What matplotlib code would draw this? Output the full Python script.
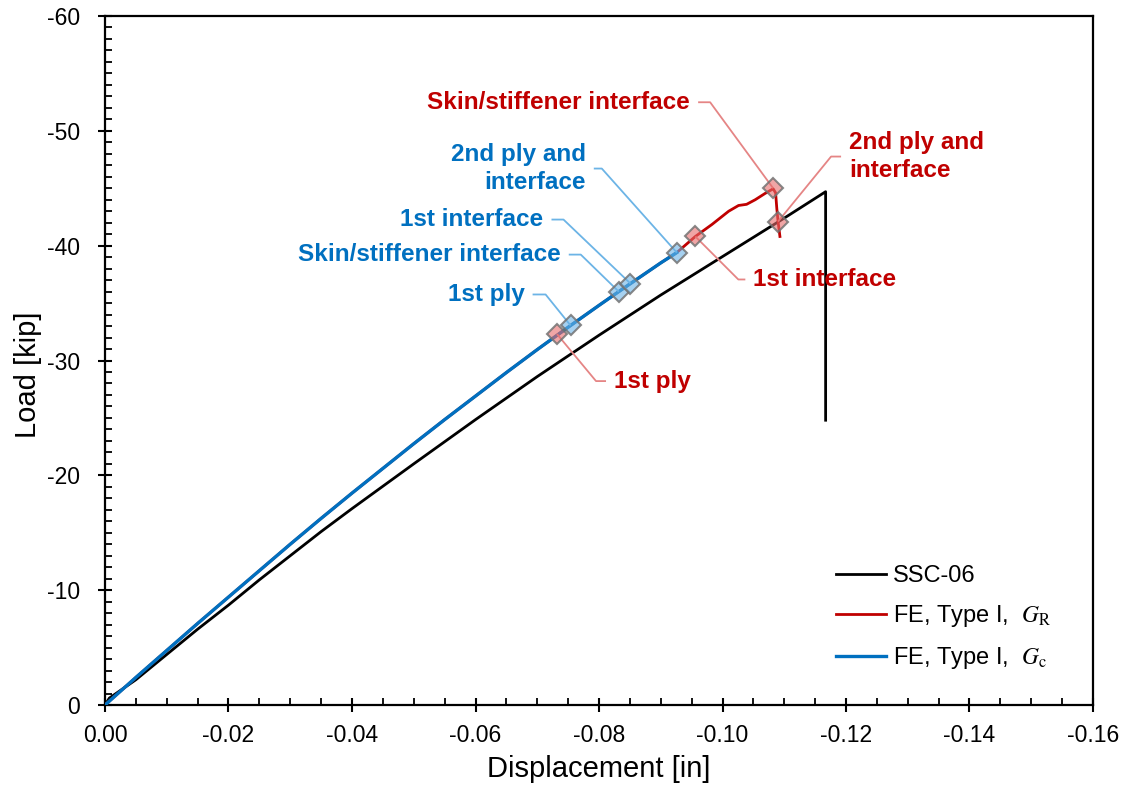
import matplotlib
matplotlib.use('Agg')
import matplotlib.pyplot as plt
from matplotlib.ticker import MultipleLocator, FuncFormatter
import numpy as np

plt.rcParams['font.family'] = ['Liberation Sans', 'DejaVu Sans']
plt.rcParams['mathtext.fontset'] = 'stix'
plt.rcParams['axes.unicode_minus'] = False

# ---------------- data ----------------
# Experiment SSC-06
disp_exp = [0.0, -0.0007, -0.005, -0.010, -0.015, -0.020, -0.025, -0.030, -0.035,
            -0.040, -0.045, -0.050, -0.060, -0.070, -0.080, -0.090, -0.100,
            -0.110, -0.1167, -0.1167]
load_exp = [0.0, -0.6, -2.2, -4.4, -6.6, -8.7, -10.9, -13.0, -15.1,
            -17.1, -19.05, -21.0, -24.85, -28.6, -32.2, -35.7, -39.05,
            -42.4, -44.7, -24.8]

# FE, Type I, Gc
disp_gc = [0.0, -0.005, -0.010, -0.015, -0.020, -0.025, -0.030, -0.035, -0.040,
           -0.045, -0.050, -0.055, -0.060, -0.065, -0.070, -0.0754, -0.080,
           -0.0832, -0.0851, -0.090, -0.0926]
load_gc = [0.0, -2.4, -4.75, -7.1, -9.4, -11.7, -14.0, -16.25, -18.45,
           -20.6, -22.75, -24.85, -26.9, -28.95, -30.95, -33.05, -34.8,
           -36.0, -36.7, -38.5, -39.4]

# FE, Type I, GR (identical to Gc up to the 2nd ply event, then continues)
disp_gr_tail = [-0.0956, -0.0983, -0.1010, -0.1026, -0.1039, -0.1053, -0.1069,
                -0.1082, -0.1086, -0.1088, -0.1090, -0.1093]
load_gr_tail = [-40.8, -41.85, -43.0, -43.5, -43.6, -44.0, -44.55,
                -44.95, -44.6, -43.2, -42.1, -40.8]
disp_gr = disp_gc + disp_gr_tail
load_gr = load_gc + load_gr_tail

# damage events
gc_event_disp = [-0.0754, -0.0832, -0.0851, -0.0926]
gc_event_load = [-33.05, -36.0, -36.7, -39.4]
gc_event_labels = ['1st ply', 'Skin/stiffener interface', '1st interface',
                   '2nd ply and\ninterface']
gr_event_disp = [-0.0732, -0.0956, -0.1082, -0.1090]
gr_event_load = [-32.3, -40.8, -45.0, -42.1]
gr_event_labels = ['1st ply', '1st interface', 'Skin/stiffener interface',
                   '2nd ply and\ninterface']

legend_labels = ['SSC-06', r'FE, Type I,  $G_{\mathrm{R}}$', r'FE, Type I,  $G_{\mathrm{c}}$']

# ---------------- styling / layout ----------------
W, H = 1127, 788
fig = plt.figure(figsize=(W / 100, H / 100), dpi=100)
ax = fig.add_axes([105 / W, 1 - 705 / H, 988 / W, 689 / H])

RED = '#C00000'
BLUE = '#0070C0'
RED_LEAD = '#E58585'
BLUE_LEAD = '#6CB4E6'

l_exp, = ax.plot(disp_exp, load_exp, color='black', lw=2.0, zorder=3)
l_gr, = ax.plot(disp_gr, load_gr, color=RED, lw=2.0, zorder=3)
l_gc, = ax.plot(disp_gc, load_gc, color=BLUE, lw=2.4, zorder=4)

ax.plot(gr_event_disp, gr_event_load, 'D', ls='none', ms=10,
        mfc=(0.90, 0.42, 0.42, 0.6), mec=(0.45, 0.45, 0.45, 0.85), mew=1.5, zorder=6)
ax.plot(gc_event_disp, gc_event_load, 'D', ls='none', ms=10,
        mfc=(0.42, 0.70, 0.90, 0.6), mec=(0.45, 0.45, 0.45, 0.85), mew=1.5, zorder=7)

ax.set_xlim(0, -0.16)
ax.set_ylim(0, -60)
ax.xaxis.set_major_locator(MultipleLocator(0.02))
ax.xaxis.set_minor_locator(MultipleLocator(0.005))
ax.yaxis.set_major_locator(MultipleLocator(10))
ax.yaxis.set_minor_locator(MultipleLocator(1))
ax.xaxis.set_major_formatter(FuncFormatter(lambda v, p: '0.00' if abs(v) < 1e-9 else f'{v:.2f}'))
ax.yaxis.set_major_formatter(FuncFormatter(lambda v, p: '0' if abs(v) < 1e-9 else f'{v:.0f}'))

for s in ax.spines.values():
    s.set_linewidth(1.6)
ax.tick_params(which='major', direction='inout', length=10, width=1.5,
               labelsize=16.5, top=False, right=False)
ax.tick_params(which='minor', direction='in', length=5, width=1.3,
               top=False, right=False)
ax.tick_params(axis='x', which='major', pad=9)
ax.tick_params(axis='y', which='major', pad=13)

ax.set_xlabel('Displacement [in]', fontsize=21)
ax.set_ylabel('Load [kip]', fontsize=21)
ax.xaxis.set_label_coords(0.5, -0.072)
ax.yaxis.set_label_coords(-0.064, 0.48)

ax.legend([l_exp, l_gr, l_gc], legend_labels, loc='upper left',
          bbox_to_anchor=(836 / W, 1 - 565 / H), bbox_transform=fig.transFigure,
          frameon=False, fontsize=17, handlelength=2.1, handletextpad=0.3,
          labelspacing=0.68, borderpad=0, borderaxespad=0)

# annotation leaders: offsets in pixels (image coords: +y downward)
# (elbow_dx, end_dx, dy)
gc_offsets = [(-25, -38, -31), (-38, -50, -37), (-67, -79, -64), (-75, -83, -84)]
gr_offsets = [(39, 49, 47), (43, 50, 43), (-63, -75, -86), (53, 63, -65)]


def annotate(xs, ys, labels, offsets, lead_color, text_color):
    for x, y, lab, (ex, ee, dy) in zip(xs, ys, labels, offsets):
        px, py = ax.transData.transform((x, y))
        pts = [(px, py), (px + ex, py - dy), (px + ee, py - dy)]
        dpts = ax.transData.inverted().transform(pts)
        ax.plot(dpts[:, 0], dpts[:, 1], color=lead_color, lw=1.3, zorder=5,
                solid_capstyle='butt')
        sign = 1 if ee > 0 else -1
        tx, ty = ax.transData.inverted().transform((px + ee + sign * 8, py - dy))
        ax.text(tx, ty, lab, color=text_color, fontsize=17.5, fontweight='bold',
                ha='left' if sign > 0 else 'right', va='center',
                multialignment='left' if sign > 0 else 'right',
                linespacing=1.25, zorder=8)


annotate(gc_event_disp, gc_event_load, gc_event_labels, gc_offsets, BLUE_LEAD, BLUE)
annotate(gr_event_disp, gr_event_load, gr_event_labels, gr_offsets, RED_LEAD, RED)

fig.savefig('out.png', dpi=100)
